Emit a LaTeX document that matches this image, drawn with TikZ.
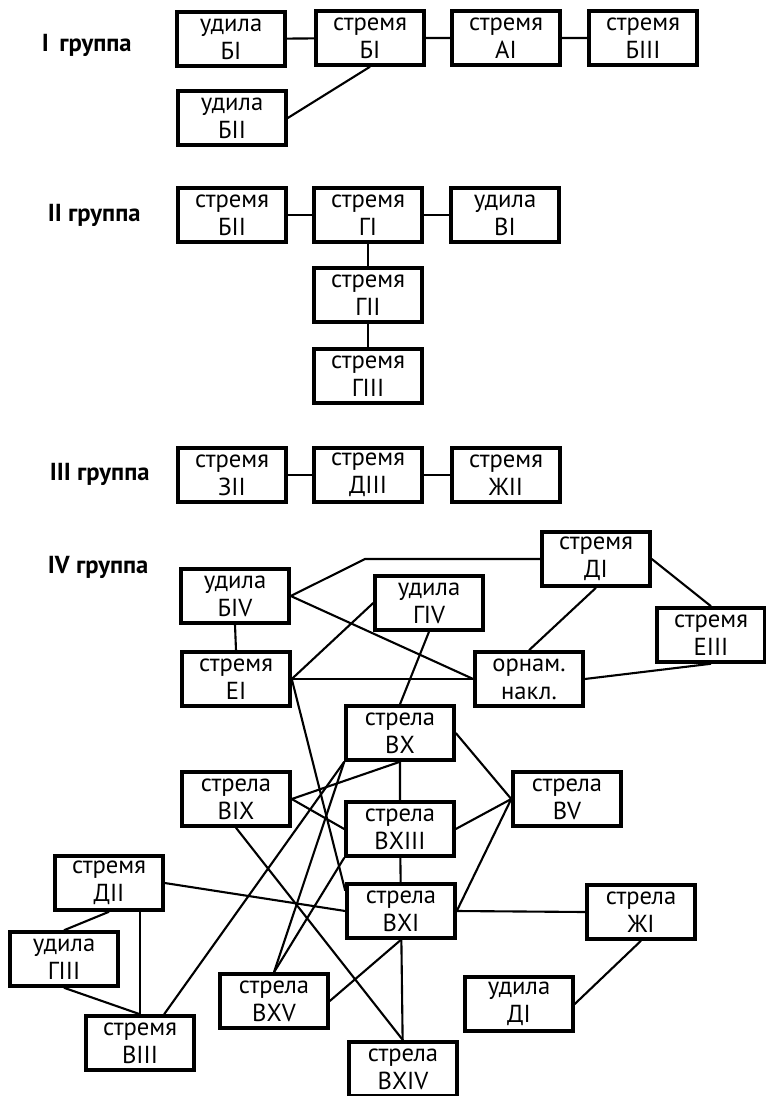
\documentclass[tikz,border=0pt]{standalone}
\usepackage{fontspec}
\setmainfont{PT Sans}
\begin{document}
\begin{tikzpicture}[x=0.03cm, y=-0.03cm, line width=1.8pt,
    box/.style={draw, line width=3pt, minimum width=3.24cm, minimum height=1.62cm,
      inner sep=0pt, font=\fontsize{21}{24}\selectfont},
    grp/.style={anchor=west, font=\bfseries\fontsize{21}{24}\selectfont}]
  \tikzset{every node/.style={align=center}}
  \useasboundingbox (0,0) rectangle (766,1096);
  % I группа
  \node[grp] (g1) at (37,45) {I\, группа};
  \node[box] (uBI) at (231,39) {удила\\БI};
  \node[box] (sBI) at (370,38) {стремя\\БI};
  \node[box] (sAI) at (506,38) {стремя\\АI};
  \node[box] (sBIII) at (643,38) {стремя\\БIII};
  \node[box] (uBII) at (232,118) {удила\\БII};
  \draw (uBI) -- (sBI) -- (sAI) -- (sBIII);
  \draw (sBI.south) -- (uBII.east);
  % II группа
  \node[grp] (g2) at (43,215) {II группа};
  \node[box] (sBII) at (232,215) {стремя\\БII};
  \node[box] (sGI) at (368,215) {стремя\\ГI};
  \node[box] (uVI) at (505,215) {удила\\ВI};
  \node[box] (sGII) at (368,295) {стремя\\ГII};
  \node[box] (sGIII) at (368,376) {стремя\\ГIII};
  \draw (sBII) -- (sGI) -- (uVI);
  \draw (sGI) -- (sGII) -- (sGIII);
  % III группа
  \node[grp] (g3) at (45,474) {III группа};
  \node[box] (sZII) at (232,475) {стремя\\ЗII};
  \node[box] (sDIII) at (368,475) {стремя\\ДIII};
  \node[box] (sZhII) at (506,475) {стремя\\ЖII};
  \draw (sZII) -- (sDIII) -- (sZhII);
  % IV группа
  \node[grp] (g4) at (43,567) {IV группа};
  \node[box] (uBIV) at (235,596) {удила\\БIV};
  \node[box] (uGIV) at (429,603) {удила\\ГIV};
  \node[box] (sDI) at (596,559) {стремя\\ДI};
  \node[box] (sEIII) at (711,635) {стремя\\ЕIII};
  \node[box] (sEI) at (236,679) {стремя\\ЕI};
  \node[box] (orn) at (529,679) {орнам.\\накл.};
  \node[box] (arBX) at (400,733) {стрела\\ВX};
  \node[box] (arBIX) at (236,799) {стрела\\ВIX};
  \node[box] (arBV) at (567,799) {стрела\\ВV};
  \node[box] (arBXIII) at (400,829) {стрела\\ВXIII};
  \node[box] (sDII) at (109,883) {стремя\\ДII};
  \node[box] (arBXI) at (401,911) {стрела\\ВXI};
  \node[box] (arZhI) at (641,912) {стрела\\ЖI};
  \node[box] (uGIII) at (64,959) {удила\\ГIII};
  \node[box] (arBXV) at (274,1001) {стрела\\ВXV};
  \node[box] (uDI) at (519,1004) {удила\\ДI};
  \node[box] (sVIII) at (140,1043) {стремя\\ВIII};
  \node[box] (arBXIV) at (403,1069) {стрела\\ВXIV};
  \coordinate (bend) at (365,559);
  \draw (uBIV.east) -- (bend) -- (sDI.west);
  \draw (uBIV.east) -- (orn.west);
  \draw (uBIV.south) -- (sEI.north);
  \draw (sEI.east) -- (uGIV.west);
  \draw (sEI.east) -- (orn.west);
  \draw (sEI.east) -- (arBXI.160);
  \draw (uGIV.south) -- (arBX.north);
  \draw (sDI.south) -- (orn.north);
  \draw (sDI.east) -- (sEIII.north);
  \draw (orn.east) -- (sEIII.south);
  \draw (arBX.south) -- (arBIX.east);
  \draw (arBX) -- (arBXIII) -- (arBXI) -- (arBXIV);
  \draw (arBX.east) -- (arBV.west);
  \draw (arBX.south west) -- (arBXV.north);
  \draw (arBX.south west) -- (sVIII.50);
  \draw (arBIX.east) -- (arBXIII.west);
  \draw (arBIX.south) -- (arBXIV.north);
  \draw (arBXIII.east) -- (arBV.west);
  \draw (arBXIII.south west) -- (arBXV.north);
  \draw (arBV.west) -- (arBXI.east);
  \draw (sDII.east) -- (arBXI.west);
  \draw (sDII.south) -- (uGIII.north);
  \draw (sDII.south -| sVIII.north) -- (sVIII.north);
  \draw (uGIII.south) -- (sVIII.north);
  \draw (arBXI.south) -- (arBXV.east);
  \draw (arBXI.east) -- (arZhI.west);
  \draw (arZhI.south) -- (uDI.east);
\end{tikzpicture}
\end{document}
